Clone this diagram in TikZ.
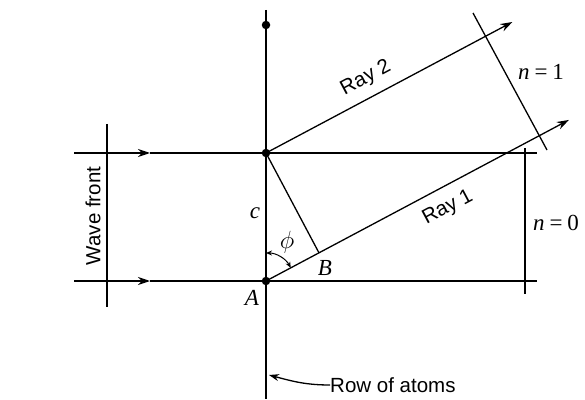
\documentclass[tikz,border=0pt]{standalone}
\usepackage{fontspec}
\newfontfamily\labelsans{Liberation Sans}
\newfontfamily\labelserif{Liberation Serif}
\usetikzlibrary{arrows.meta,calc}
\begin{document}
\begin{tikzpicture}[x=1pt,y=1pt,
  ln/.style={line width=1.3pt},
  arr/.style={-{Stealth[length=12pt,width=8pt]}},
  dotnode/.style={circle,fill=black,inner sep=0pt,minimum size=8.5pt},
  sanslab/.style={font=\labelsans\fontsize{20.5}{24}\selectfont,inner sep=0pt},
  mathlab/.style={font=\labelserif\fontsize{23}{27}\selectfont,inner sep=0pt}]
\useasboundingbox (0,0) rectangle (585,399);
% coordinates
\coordinate (vtop) at (266,389);
\coordinate (vbot) at (266,0);
\coordinate (UL) at (74,246);
\coordinate (UM) at (150,246);
\coordinate (UR) at (537,246);
\coordinate (LL) at (74,118);
\coordinate (LM) at (150,118);
\coordinate (LR) at (537,118);
\coordinate (WT) at (107,275);
\coordinate (WB) at (107,92);
\coordinate (A) at (266,118);
\coordinate (P) at (266,246);
\coordinate (B) at ($(A)+(28:60)$);
\coordinate (R1end) at ($(A)+(28:343)$);
\coordinate (R2end) at ($(P)+(28:279)$);
\coordinate (N1a) at (473,386);
\coordinate (N1b) at (547,249);
\coordinate (N0a) at (525,251);
\coordinate (N0b) at (525,105);
\coordinate (arcS) at ($(A)+(90:28)$);
\coordinate (arcE) at ($(A)+(28:28)$);
\coordinate (rowtip) at (269,24);
% lines
\draw[ln] (vtop) -- (vbot);
\draw[ln,arr] (UL) -- (UM);
\draw[ln] (UM) -- (UR);
\draw[ln,arr] (LL) -- (LM);
\draw[ln] (LM) -- (LR);
\draw[ln] (WT) -- (WB);
\draw[ln,arr] (A) -- (R1end);
\draw[ln,arr] (P) -- (R2end);
\draw[ln] (P) -- (B);
\draw[ln] (N1a) -- (N1b);
\draw[ln] (N0a) -- (N0b);
\draw[line width=1pt,{Stealth[length=6pt,width=5pt]}-{Stealth[length=6pt,width=5pt]}] (arcS) arc[start angle=90,end angle=28,radius=28];
% dots
\node[dotnode] (dtop) at (266,374) {};
\node[dotnode] (dP) at (P) {};
\node[dotnode] (dA) at (A) {};
% labels
\node[sanslab,rotate=28] (ray2) at (366,321) {Ray 2};
\node[sanslab,rotate=28] (ray1) at (448,191) {Ray 1};
\node[sanslab,rotate=90] (wf) at (93,183) {Wave front};
\node[sanslab,anchor=west] (row) at (330,14) {Row of atoms};
\draw[ln,-{Stealth[length=10pt,width=7pt]}] (row.west) to[out=180,in=-15] (rowtip);
\node[mathlab] (n1) at (541,327) {\textit{n}\hspace{5pt}=\hspace{5pt}1};
\node[mathlab] (n0) at (556,176) {\textit{n}\hspace{5pt}=\hspace{5pt}0};
\node[mathlab] (c) at (255,186) {\textit{c}};
\node[mathlab] (phi) at (287,157) {\fontsize{24}{28}\selectfont$\phi$};
\node[mathlab] (Bl) at (325,131) {\textit{B}};
\node[mathlab] (Al) at (252,101) {\textit{A}};
\end{tikzpicture}
\end{document}
